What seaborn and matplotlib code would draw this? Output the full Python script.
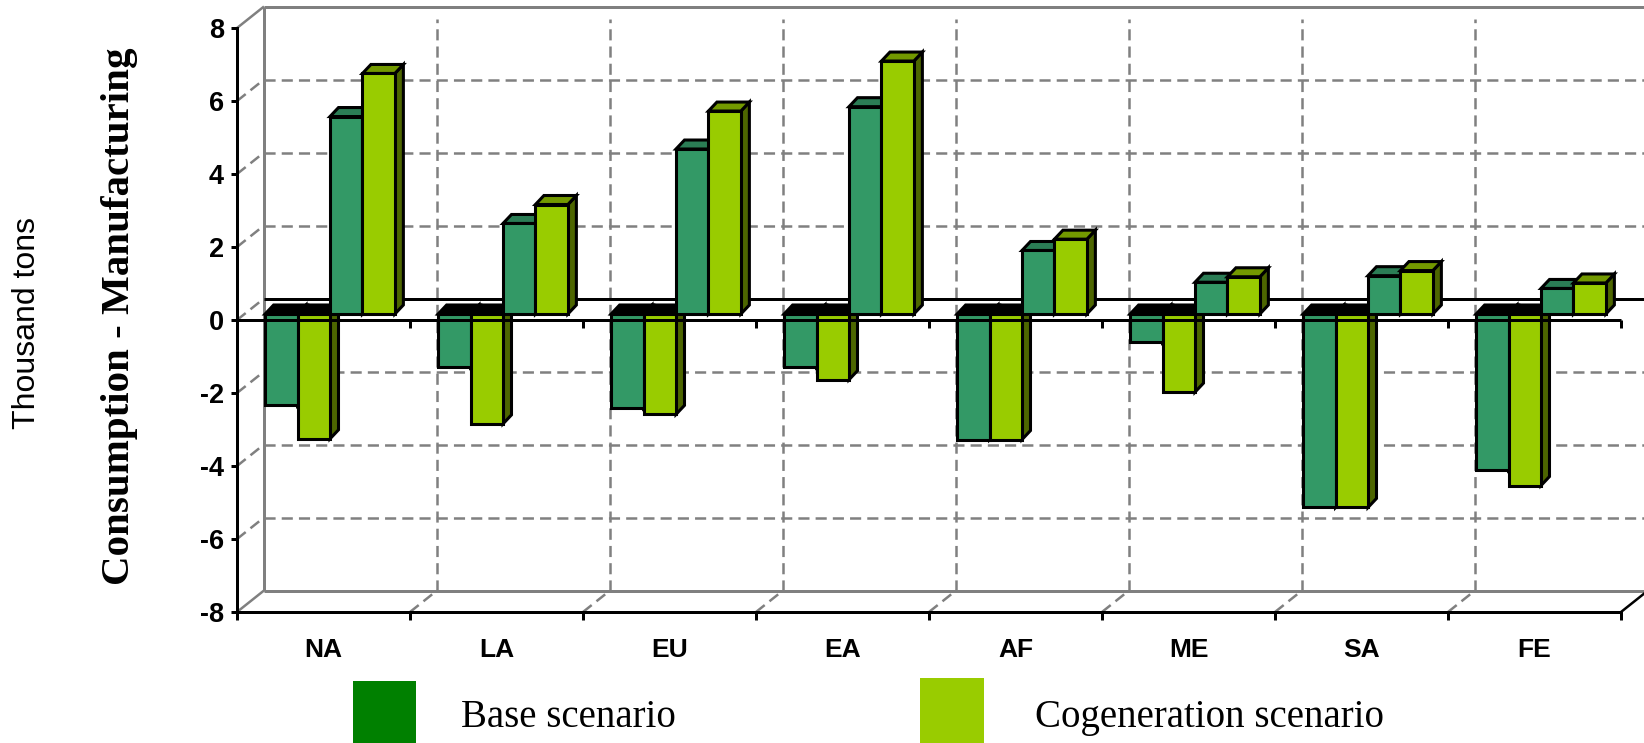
import numpy as np
import pandas as pd
import matplotlib
matplotlib.use("Agg")
import matplotlib.pyplot as plt
import matplotlib.transforms as mtransforms
from matplotlib.patches import Polygon, Rectangle
import seaborn as sns

# ---- data -------------------------------------------------------------
regions = ["NA", "LA", "EU", "EA", "AF", "ME", "SA", "FE"]
base_decrease = [-2.50, -1.45, -2.57, -1.45, -3.44, -0.77, -5.30, -4.27]
cogen_decrease = [-3.42, -3.01, -2.75, -1.80, -3.44, -2.14, -5.30, -4.70]
base_increase = [5.41, 2.48, 4.52, 5.68, 1.74, 0.87, 1.05, 0.70]
cogen_increase = [6.59, 3.00, 5.56, 6.93, 2.05, 1.02, 1.19, 0.85]
y_ticks = [-8, -6, -4, -2, 0, 2, 4, 6, 8]
legend_labels = ["Base scenario", "Cogeneration scenario"]
y_title = "Consumption - Manufacturing"
unit_title = "Thousand tons"

series = ["base_dec", "cogen_dec", "base_inc", "cogen_inc"]
df = pd.DataFrame({
    "region": regions * len(series),
    "series": np.repeat(series, len(regions)),
    "value": base_decrease + cogen_decrease + base_increase + cogen_increase,
})

# ---- styling ------------------------------------------------------------
BASE = dict(front="#339966", top="#2B7D55", side="#1F5C3F")
COGEN = dict(front="#99CC00", top="#739900", side="#4D6600")
LEGEND_COLORS = ["#008000", "#99CC00"]
GRID = "#808080"
plt.rcParams["lines.scale_dashes"] = False
SANS = "Liberation Sans"
SERIF = "Liberation Serif"

W, H = 1644, 743
fig = plt.figure(figsize=(W / 100, H / 100), dpi=100)
fig.patch.set_facecolor("white")
x0, x1, ytop, ybot = 237, 1621, 28, 612
ax = fig.add_axes([x0 / W, 1 - ybot / H, (x1 - x0) / W, (ybot - ytop) / H])

sns.barplot(data=df, x="region", y="value", hue="series", order=regions,
            hue_order=series,
            palette=[BASE["front"], COGEN["front"], BASE["front"], COGEN["front"]],
            saturation=1, width=0.75, edgecolor="black", linewidth=2.2,
            errorbar=None, legend=False, ax=ax)

ax.set_xlim(-0.5, len(regions) - 0.5)
ax.set_ylim(-8, 8)

# pixel -> data conversion for the oblique projection
px_x = len(regions) / (x1 - x0)
px_y = 16 / (ybot - ytop)
bx, by = 27 * px_x, 21.5 * px_y          # back wall offset
dx, dy = 8.5 * px_x, 9 * px_y            # bar depth
shift = ax.transData + mtransforms.ScaledTranslation(6.5 / 100, 6 / 100,
                                                      fig.dpi_scale_trans)

lw_grid = 2.5 * 72 / 100
lw_axis = 3 * 72 / 100
dash = (0, (8.0, 4.4))
xl, xr = -0.5, len(regions) - 0.5


def line(xs, ys, **kw):
    kw.setdefault("clip_on", False)
    ax.plot(xs, ys, solid_capstyle="butt", dash_capstyle="butt", **kw)


# back wall
far_right = xr + bx + 1
line([xl + bx, far_right], [8 + by, 8 + by], color=GRID, lw=lw_axis, zorder=0.5)
line([xl + bx, xl + bx], [-8 + by, 8 + by], color=GRID, lw=lw_axis, zorder=0.5)
line([xl + bx, far_right], [-8 + by, -8 + by], color=GRID, lw=lw_axis, zorder=0.5)
for v in y_ticks[1:-1]:
    if v != 0:
        line([xl + bx, far_right], [v + by, v + by], color=GRID, lw=lw_grid,
             linestyle=dash, zorder=0.4)
    line([xl, xl + bx], [v, v + by], color=GRID, lw=lw_grid, linestyle=dash,
         zorder=0.4)
for k in range(1, len(regions)):
    xb = k - 0.5
    line([xb + bx, xb + bx], [-8 + by, 8 + by - 12 * px_y], color=GRID,
         lw=lw_grid, linestyle=dash, zorder=0.4)
    line([xb, xb + bx], [-8, -8 + by], color=GRID, lw=lw_grid, linestyle=dash,
         zorder=0.4)
line([xl, xl + bx], [8, 8 + by], color=GRID, lw=lw_grid, zorder=0.5)
line([xl, xl + bx], [-8, -8 + by], color=GRID, lw=lw_grid, zorder=0.5)
line([xr, xr + bx], [-8, -8 + by], color="black", lw=lw_grid, zorder=0.5)
# back zero plane edge
line([xl + bx, far_right], [by, by], color="black", lw=lw_axis, zorder=0.6)

# 3D faces for every bar, drawn left to right
bars = sorted([p for p in ax.patches if isinstance(p, Rectangle)],
              key=lambda p: p.get_x())
for i, p in enumerate(bars):
    slot = i % 4
    pal = BASE if slot in (0, 2) else COGEN
    x, w, h = p.get_x(), p.get_width(), p.get_height()
    z = 3 + 2 * i
    p.set_transform(shift)
    p.set_zorder(z + 1)
    if h >= 0:
        top = [(x, h), (x + w, h), (x + w + dx, h + dy), (x + dx, h + dy)]
        side = [(x + w, 0), (x + w, h), (x + w + dx, h + dy), (x + w + dx, dy)]
        top_color = pal["top"]
    else:
        top = [(x, 0), (x + w, 0), (x + w + dx, dy), (x + dx, dy)]
        side = [(x + w, h), (x + w, 0), (x + w + dx, dy), (x + w + dx, h + dy)]
        top_color = "black"
    for verts, fc in ((side, pal["side"]), (top, top_color)):
        ax.add_patch(Polygon(verts, closed=True, facecolor=fc,
                             edgecolor="black", linewidth=2.2, joinstyle="miter",
                             transform=shift, zorder=z))

# front zero line with category ticks
line([xl, xr], [0, 0], color="black", lw=lw_axis, zorder=200)
for k in range(1, len(regions) + 1):
    line([k - 0.5, k - 0.5], [0, -8 * px_y], color="black", lw=lw_axis,
         zorder=200)

# axes frame
for s in ("top", "right"):
    ax.spines[s].set_visible(False)
for s in ("left", "bottom"):
    ax.spines[s].set_linewidth(lw_axis)
    ax.spines[s].set_zorder(210)
ax.patch.set_alpha(0)

ax.set_yticks(y_ticks)
ax.set_yticklabels([str(v) for v in y_ticks])
ax.tick_params(axis="y", direction="out", length=6 * 0.72, width=lw_axis,
               pad=5, labelsize=19.5)
ax.set_xticks(range(len(regions)))
ax.set_xticklabels(regions)
ax.tick_params(axis="x", which="major", length=0, pad=19, labelsize=19)
ax.set_xticks(np.arange(len(regions) + 1) - 0.5, minor=True)
ax.tick_params(axis="x", which="minor", direction="out", length=8 * 0.72,
               width=lw_axis)
for lab in ax.get_xticklabels() + ax.get_yticklabels():
    lab.set_fontfamily(SANS)
    lab.set_fontweight("bold")
ax.set_xlabel("")
ax.set_ylabel("")

# axis titles
fig.text(120 / W, 1 - 316 / H, y_title, rotation=90, ha="center", va="center",
         fontfamily=SERIF, fontweight="bold", fontsize=29.5)
fig.text(27 / W, 1 - 323 / H, unit_title, rotation=90, ha="center",
         va="center", fontfamily=SANS, fontsize=23)

# legend
for (lx, ly, lw_, lh), color, label, tx in zip(
        [(353, 681, 63, 62), (920, 678, 64, 65)], LEGEND_COLORS, legend_labels,
        [461, 1035]):
    fig.add_artist(Rectangle((lx / W, 1 - (ly + lh) / H), lw_ / W, lh / H,
                             transform=fig.transFigure, facecolor=color,
                             edgecolor="none"))
    fig.text(tx / W, 1 - 727 / H, label, ha="left", va="baseline",
             fontfamily=SERIF, fontsize=28)

fig.savefig("out.png", dpi=100, facecolor="white")
